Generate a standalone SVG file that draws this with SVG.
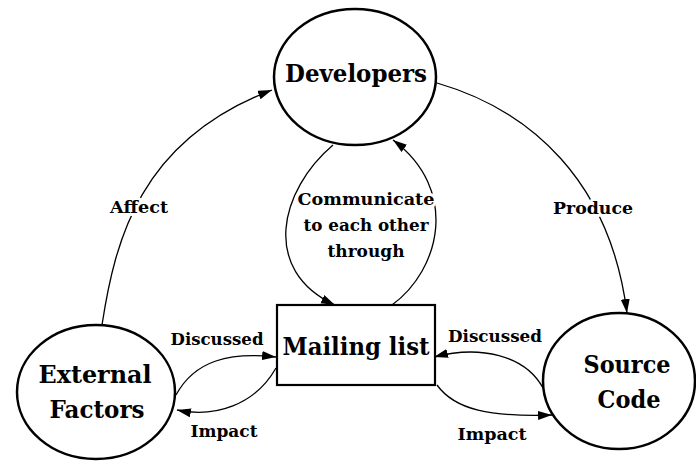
<svg xmlns="http://www.w3.org/2000/svg" width="696" height="464" viewBox="0 0 696 464">
  <style>
    .node { fill: #ffffff; stroke: #000000; stroke-width: 2.5; }
    .box { fill: #ffffff; stroke: #000000; stroke-width: 2.2; }
    .title { font-family: "DejaVu Serif", serif; font-weight: 700; font-size: 25px; fill: #000000; text-anchor: middle; }
    .edge { fill: none; stroke: #000000; stroke-width: 1.3; marker-end: url(#arrow); }
    .label { font-family: "DejaVu Serif", serif; font-weight: 700; font-size: 17.5px; fill: #000000; text-anchor: middle; stroke: #ffffff; stroke-width: 6; paint-order: stroke; stroke-linejoin: round; }
  </style>
  <defs>
    <marker id="arrow" markerUnits="userSpaceOnUse" markerWidth="15" markerHeight="10" refX="14" refY="4.5" orient="auto">
      <path d="M0,0 L14,4.5 L0,9 z" fill="#000000"/>
    </marker>
  </defs>
  <rect width="696" height="464" fill="#ffffff"/>

  <g id="connectors">
    <path class="edge" d="M102,325 C115,240 140,140 272,90"/>
    <path class="edge" d="M437,83 C530,110 610,180 627,313"/>
    <path class="edge" d="M333,145 C280,190 260,270 335,305"/>
    <path class="edge" d="M392,305 C440,270 460,190 393,140"/>
    <path class="edge" d="M176,395 C195,360 230,352 276,357"/>
    <path class="edge" d="M276,368 C255,405 215,418 177,410"/>
    <path class="edge" d="M543,388 C525,355 480,345 434,357"/>
    <path class="edge" d="M437,385 C455,410 490,417 552,415"/>
  </g>

  <g id="edge-labels">
    <text class="label" x="139" y="213" textLength="58" lengthAdjust="spacingAndGlyphs">Affect</text>
    <text class="label" x="593" y="214" textLength="80" lengthAdjust="spacingAndGlyphs">Produce</text>
    <text class="label" x="366" y="205" textLength="137" lengthAdjust="spacingAndGlyphs">Communicate</text>
    <text class="label" x="366" y="231" textLength="125" lengthAdjust="spacingAndGlyphs">to each other</text>
    <text class="label" x="366" y="257" textLength="77" lengthAdjust="spacingAndGlyphs">through</text>
    <text class="label" x="217" y="345" textLength="93" lengthAdjust="spacingAndGlyphs">Discussed</text>
    <text class="label" x="224" y="437" textLength="67" lengthAdjust="spacingAndGlyphs">Impact</text>
    <text class="label" x="495" y="342" textLength="94" lengthAdjust="spacingAndGlyphs">Discussed</text>
    <text class="label" x="492" y="440" textLength="69" lengthAdjust="spacingAndGlyphs">Impact</text>
  </g>

  <g id="developers">
    <ellipse class="node" cx="355" cy="77" rx="81" ry="68"/>
    <text class="title" x="356" y="82" textLength="142" lengthAdjust="spacingAndGlyphs">Developers</text>
  </g>

  <g id="external-factors">
    <ellipse class="node" cx="96" cy="392" rx="79" ry="67"/>
    <text class="title" x="95" y="383" textLength="113" lengthAdjust="spacingAndGlyphs">External</text>
    <text class="title" x="97" y="418" textLength="95" lengthAdjust="spacingAndGlyphs">Factors</text>
  </g>

  <g id="source-code">
    <ellipse class="node" cx="619" cy="381" rx="76" ry="68"/>
    <text class="title" x="627" y="373" textLength="87" lengthAdjust="spacingAndGlyphs">Source</text>
    <text class="title" x="629" y="408" textLength="63" lengthAdjust="spacingAndGlyphs">Code</text>
  </g>

  <g id="mailing-list">
    <rect class="box" x="277" y="305" width="158" height="80"/>
    <text class="title" x="356" y="355" textLength="147" lengthAdjust="spacingAndGlyphs">Mailing list</text>
  </g>
</svg>
